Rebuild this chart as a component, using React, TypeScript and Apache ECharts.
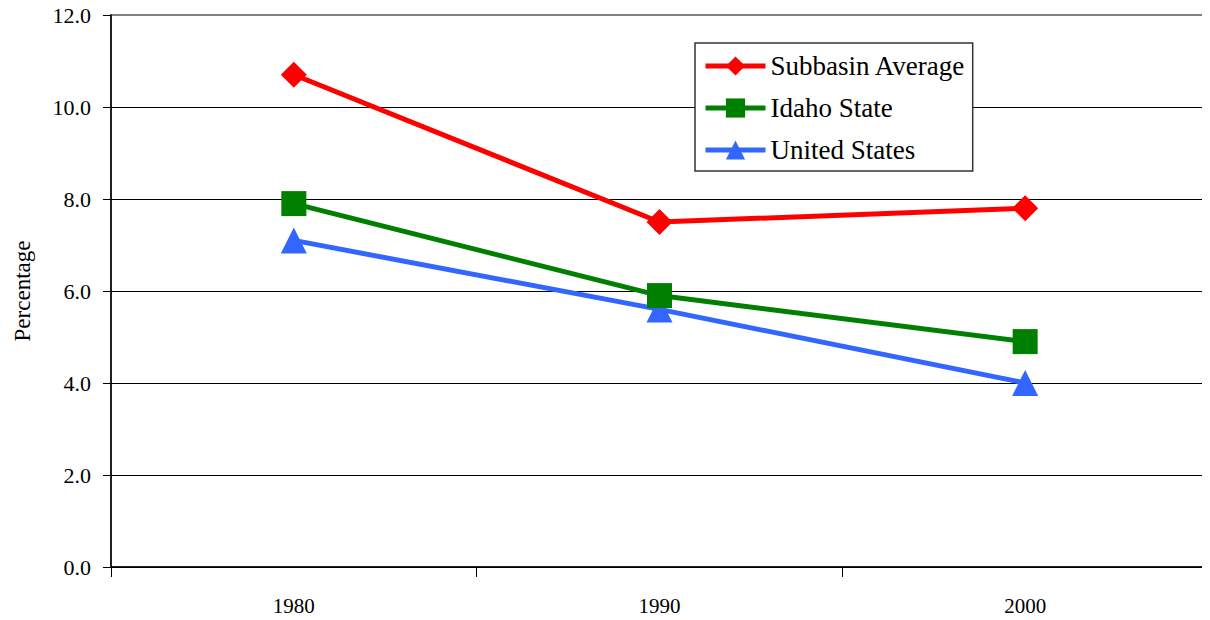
import React, { useEffect, useRef } from "react";
import * as echarts from "echarts";

const categories = ["1980", "1990", "2000"];
const subbasinAverage = [10.7, 7.5, 7.8];
const idahoState = [7.9, 5.9, 4.9];
const unitedStates = [7.1, 5.6, 4.0];
const yTicks = { min: 0, max: 12, interval: 2 };

const FONT = "Liberation Serif";

export default function App() {
  const ref = useRef<HTMLDivElement>(null);
  useEffect(() => {
    if (!ref.current) return;
    const chart = echarts.init(ref.current, null, { renderer: "svg" });
    chart.setOption({
      animation: false,
      backgroundColor: "#ffffff",
      textStyle: { fontFamily: FONT },
      grid: {
        left: 111,
        top: 15,
        right: 2,
        bottom: 53,
        outerBoundsMode: "none",
        containLabel: false,
        show: true,
        borderColor: "#808080",
        borderWidth: 2,
        backgroundColor: "transparent",
      },
      legend: {
        orient: "vertical",
        left: 695,
        top: 43,
        padding: [8, 7, 6, 8],
        itemGap: 12,
        itemWidth: 60,
        itemHeight: 24,
        borderColor: "#333333",
        borderWidth: 1.5,
        backgroundColor: "#ffffff",
        lineStyle: { width: 5 },
        textStyle: {
          fontFamily: FONT,
          fontSize: 27,
          color: "#000000",
          lineHeight: 30,
        },
        data: ["Subbasin Average", "Idaho State", "United States"],
      },
      xAxis: {
        type: "category",
        data: categories,
        boundaryGap: true,
        axisLine: { lineStyle: { color: "#000000", width: 1.5 } },
        axisTick: { show: true, length: 10, inside: false, lineStyle: { color: "#000000", width: 1 } },
        axisLabel: { color: "#000000", fontSize: 21, fontFamily: FONT, margin: 28 },
        splitLine: { show: false },
      },
      yAxis: {
        type: "value",
        min: yTicks.min,
        max: yTicks.max,
        interval: yTicks.interval,
        name: "Percentage",
        nameLocation: "middle",
        nameRotate: 90,
        nameGap: 77,
        nameTextStyle: { color: "#000000", fontSize: 23, fontFamily: FONT },
        axisLine: { show: true, lineStyle: { color: "#000000", width: 1.5 } },
        axisTick: { show: true, length: 8, inside: false, lineStyle: { color: "#000000", width: 1 } },
        axisLabel: {
          color: "#000000",
          fontSize: 22,
          fontFamily: FONT,
          margin: 20,
          formatter: (v: number) => v.toFixed(1),
        },
        splitLine: { show: true, showMaxLine: false, lineStyle: { color: "#000000", width: 1 } },
      },
      series: [
        {
          name: "Subbasin Average",
          type: "line",
          data: subbasinAverage,
          symbol: "diamond",
          symbolSize: [26, 26],
          lineStyle: { color: "#ff0000", width: 5 },
          itemStyle: { color: "#ff0000" },
          z: 3,
        },
        {
          name: "Idaho State",
          type: "line",
          data: idahoState,
          symbol: "rect",
          symbolSize: 25,
          lineStyle: { color: "#008000", width: 5 },
          itemStyle: { color: "#008000" },
          z: 2,
        },
        {
          name: "United States",
          type: "line",
          data: unitedStates,
          symbol: "triangle",
          symbolSize: 26,
          lineStyle: { color: "#3366ff", width: 5 },
          itemStyle: { color: "#3366ff" },
          z: 1,
        },
      ],
    });
    return () => chart.dispose();
  }, []);
  return <div ref={ref} style={{ width: 1210, height: 620, marginLeft: -8, marginTop: -8 }} />;
}
